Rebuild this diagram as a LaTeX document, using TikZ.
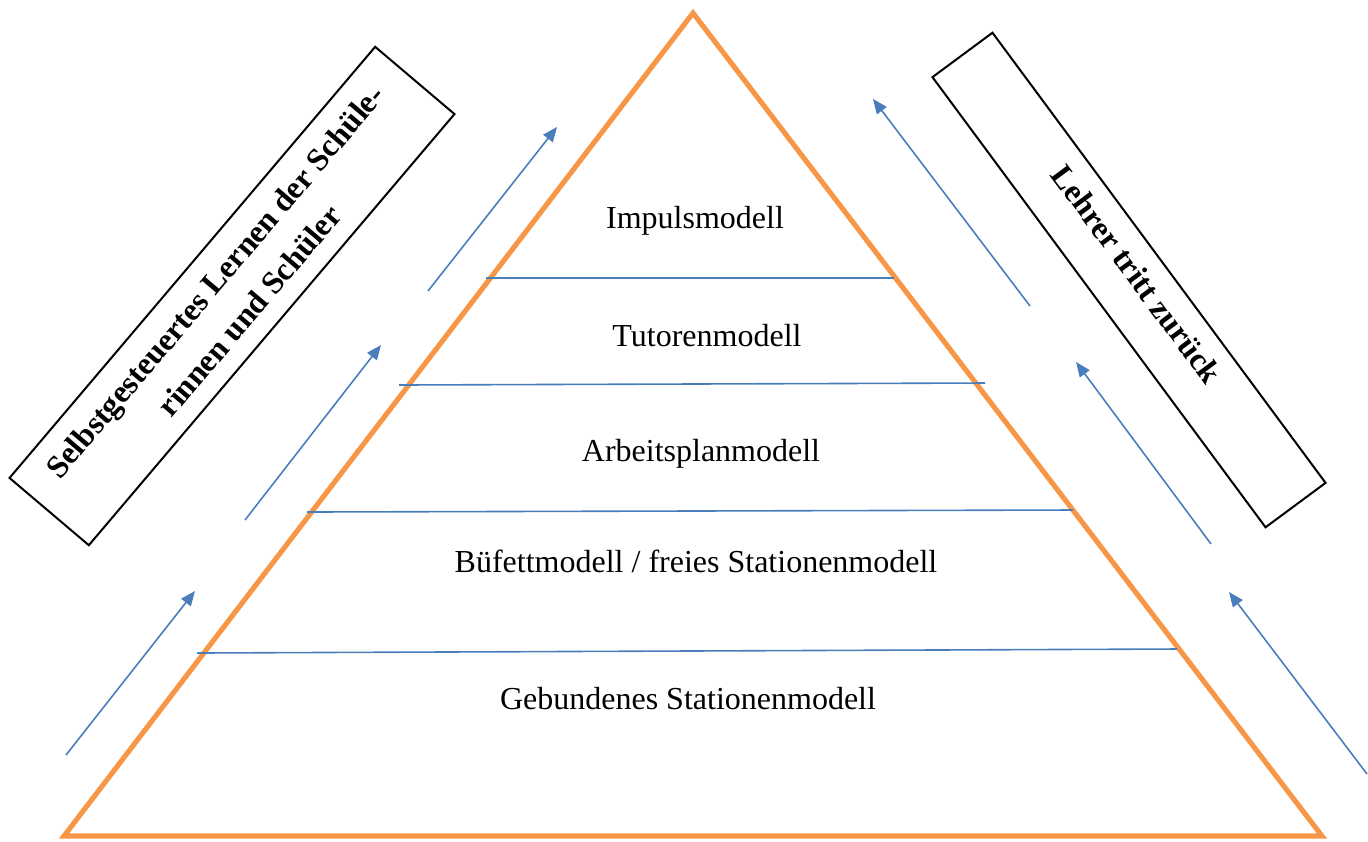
\documentclass[tikz,border=0pt]{standalone}
\usepackage{fontspec}
\setmainfont{Liberation Serif}
\usetikzlibrary{arrows.meta,positioning}
\definecolor{pyramidorange}{RGB}{247,150,70}
\definecolor{arrowblue}{RGB}{74,126,187}

\begin{document}
\begin{tikzpicture}[x = 0.375pt, y = -0.375pt,
						pyramid/.style = {draw = pyramidorange, line width = 1.9pt, line join = miter},
						levelline/.style = {draw = arrowblue, line width = 0.6pt},
						levellabel/.style = {anchor = base, inner sep = 0pt, font = \fontsize{12}{14}\selectfont},
						sidebox/.style = {rectangle, draw, line width = 0.75pt, align = center, inner sep = 0pt, font = \fontsize{12}{17}\selectfont\bfseries},
						pathstyle/.style = {-{Triangle[length = 5.5pt, width = 4.5pt]}, draw = arrowblue, line width = 0.6pt}]
		\useasboundingbox (0,0) rectangle (1368,841);
		% Start of Pyramid
		\coordinate (apex) at (693,13);
		\coordinate (baseleft) at (64,836);
		\coordinate (baseright) at (1322,836);
		\draw [pyramid] (apex) -- (baseright) -- (baseleft) -- cycle;
		\coordinate (lev1w) at (486,278);
		\coordinate (lev1e) at (894,278);
		\coordinate (lev2w) at (399,385);
		\coordinate (lev2e) at (985,383);
		\coordinate (lev3w) at (307,512);
		\coordinate (lev3e) at (1073,510);
		\coordinate (lev4w) at (197,653);
		\coordinate (lev4e) at (1177,649);
		\draw [levelline] (lev1w) -- (lev1e);
		\draw [levelline] (lev2w) -- (lev2e);
		\draw [levelline] (lev3w) -- (lev3e);
		\draw [levelline] (lev4w) -- (lev4e);
		\node (impuls) at (695,228) [levellabel] {Impulsmodell};
		\node (tutoren) at (707,346) [levellabel] {Tutorenmodell};
		\node (arbeitsplan) at (701,461) [levellabel] {Arbeitsplanmodell};
		\node (buefett) at (696,572) [levellabel] {Büfettmodell / freies Stationenmodell};
		\node (gebunden) at (688,709) [levellabel] {Gebundenes Stationenmodell};
		% Start of side boxes
		\node (schueler) at (232,296) [sidebox, rotate = 49.7, minimum width = 212pt, minimum height = 39pt] {Selbstgesteuertes Lernen der Schüle-\\rinnen und Schüler};
		\node (lehrer) at (1129,280) [sidebox, rotate = -53.5, minimum width = 210pt, minimum height = 28pt, text depth = 7.4pt] {Lehrer tritt zurück};
		% Arrows on the left
		\coordinate (lup1s) at (66,755);
		\coordinate (lup1e) at (195,591);
		\coordinate (lup2s) at (245,520);
		\coordinate (lup2e) at (381,345);
		\coordinate (lup3s) at (428,291);
		\coordinate (lup3e) at (557,127);
		\draw [pathstyle] (lup1s) -- (lup1e);
		\draw [pathstyle] (lup2s) -- (lup2e);
		\draw [pathstyle] (lup3s) -- (lup3e);
		% Arrows on the right
		\coordinate (rup1s) at (1367,774);
		\coordinate (rup1e) at (1229,592);
		\coordinate (rup2s) at (1211,544);
		\coordinate (rup2e) at (1076,362);
		\coordinate (rup3s) at (1030,306);
		\coordinate (rup3e) at (873,99);
		\draw [pathstyle] (rup1s) -- (rup1e);
		\draw [pathstyle] (rup2s) -- (rup2e);
		\draw [pathstyle] (rup3s) -- (rup3e);
	\end{tikzpicture}
\end{document}
